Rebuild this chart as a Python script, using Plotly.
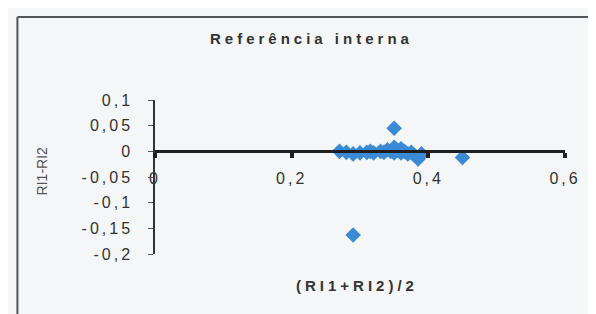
import plotly.graph_objects as go

# Data
mean_ri = [0.27, 0.28, 0.29, 0.30, 0.31, 0.315, 0.32, 0.33, 0.335, 0.34, 0.345, 0.35,
           0.35, 0.355, 0.36, 0.36, 0.365, 0.37, 0.375, 0.38, 0.385, 0.39, 0.385, 0.35,
           0.29, 0.45]
diff_ri = [0.0, -0.002, -0.005, -0.003, -0.002, 0.0, -0.003, 0.0, -0.002, 0.003, 0.0, 0.008,
           0.045, 0.002, 0.005, -0.003, 0.0, -0.005, -0.002, -0.008, -0.012, -0.005, -0.015, -0.003,
           -0.163, -0.012]

x_tickvals = [0, 0.2, 0.4, 0.6]
x_ticktext = ["0", "0,2", "0,4", "0,6"]
y_tickvals = [0.1, 0.05, 0, -0.05, -0.1, -0.15, -0.2]
y_ticktext = ["0,1", "0,05", "0", "-0,05", "-0,1", "-0,15", "-0,2"]

W, H = 596, 314
L, R, T, B = 146.7, 39, 92, 68
pw, ph = W - L - R, H - T - B

def px(x):
    return (x - L) / pw

def py(y):
    return (H - B - y) / ph

def spaced(s, sp, bold=False):
    style = "letter-spacing:%spx" % sp
    if bold:
        style = "font-weight:bold;" + style
    return '<span style="%s">%s</span>' % (style, s)

fig = go.Figure()
fig.add_trace(go.Scatter(
    x=mean_ri, y=diff_ri, mode="markers",
    marker=dict(symbol="diamond", size=12, color="#3a8ad6"),
    showlegend=False, cliponaxis=False,
))

font_family = "Liberation Sans, Arial, sans-serif"
fig.update_layout(
    width=W, height=H,
    margin=dict(l=L, r=R, t=T, b=B, pad=0),
    paper_bgcolor="#f5f6f7", plot_bgcolor="#f5f6f7",
    font=dict(family=font_family, color="#333", size=16),
    xaxis=dict(
        range=[0, 0.6], tickvals=x_tickvals,
        ticktext=[spaced(t, 3) for t in x_ticktext],
        showgrid=False, zeroline=False, showline=True, linecolor="#1e1e1e", linewidth=3,
        ticks="outside", ticklen=5, tickwidth=4, tickcolor="#1e1e1e",
        anchor="free", position=2/3, ticklabelstandoff=6,
        tickfont=dict(size=16, color="#333"),
    ),
    yaxis=dict(
        range=[-0.2, 0.1], tickvals=y_tickvals,
        ticktext=[spaced(t, 3) for t in y_ticktext],
        showgrid=False, zeroline=False, showline=True, linecolor="#333", linewidth=1.5,
        ticks="outside", ticklen=5, tickwidth=1, tickcolor="#555",
        ticklabelstandoff=12,
        tickfont=dict(size=16, color="#333"),
    ),
    annotations=[
        dict(text=spaced("Referência interna", 4, bold=True), x=px(303), y=py(30),
             xref="paper", yref="paper", showarrow=False,
             font=dict(size=15, color="#333"), xanchor="center", yanchor="middle"),
        dict(text=spaced("(RI1+RI2)/2", 4, bold=True), x=px(349), y=py(277),
             xref="paper", yref="paper", showarrow=False,
             font=dict(size=15, color="#333"), xanchor="center", yanchor="middle"),
        dict(text="RI1-RI2", x=px(34), y=py(163), xref="paper", yref="paper",
             showarrow=False, textangle=-90, font=dict(size=14, color="#555"),
             xanchor="center", yanchor="middle"),
    ],
    shapes=[
        dict(type="line", xref="paper", yref="paper", x0=px(9), x1=px(W + 5), y0=py(9), y1=py(9),
             line=dict(color="#555", width=2)),
        dict(type="line", xref="paper", yref="paper", x0=px(9), x1=px(9), y0=py(9), y1=py(H + 5),
             line=dict(color="#555", width=2)),
    ],
)

fig.write_html("out.html")
